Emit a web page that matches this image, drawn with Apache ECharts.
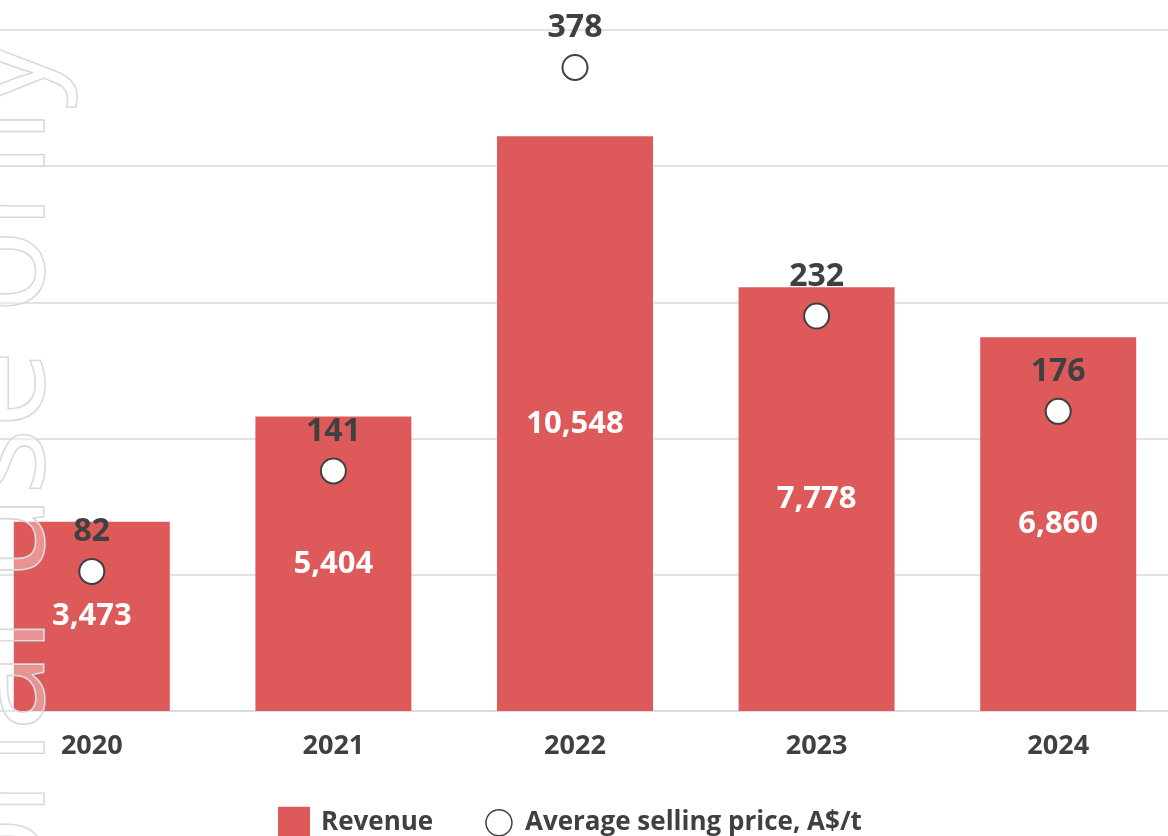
<!DOCTYPE html>
<html>
<head>
<meta charset="utf-8">
<script src="https://cdn.jsdelivr.net/npm/echarts@6/dist/echarts.min.js"></script>
<style>
html,body{margin:0;padding:0;background:#fff;width:1168px;height:836px;overflow:hidden;}
#chart{width:1208px;height:836px;margin-left:-29px;}
</style>
</head>
<body>
<div id="chart"></div>
<script>
const years = ['2020', '2021', '2022', '2023', '2024'];
const revenue = [3473, 5404, 10548, 7778, 6860];
const avgPrice = [82, 141, 378, 232, 176];
const seriesNames = ['Revenue', 'Average selling price, A$/t'];
const watermarkText = 'For personal use only';

const FONT = '"Open Sans", "Liberation Sans", sans-serif';
const DARK = '#404040';
const RED = '#DE5A5A';
const OFF = 29; // canvas is shifted left by this many px

const chart = echarts.init(document.getElementById('chart'), null, {renderer: 'canvas'});
chart.setOption({
  animation: false,
  backgroundColor: '#fff',
  textStyle: {fontFamily: FONT},
  grid: {left: 0, right: 0, top: 30, bottom: 125, containLabel: false},
  legend: {
    left: 273 + OFF, top: 801,
    itemWidth: 32, itemHeight: 32, itemGap: 48,
    textStyle: {fontFamily: FONT, fontWeight: 'bold', fontSize: 26, color: DARK, padding: [0, 0, 0, 6]},
    data: [
      {name: seriesNames[0], icon: 'rect'},
      {name: seriesNames[1], icon: 'path://M0,0M32,32M30,16A13,13,0,1,1,4,16A13,13,0,1,1,30,16Z',
       itemStyle: {color: '#fff', borderColor: DARK, borderWidth: 1.5}}
    ]
  },
  xAxis: {
    type: 'category',
    data: years,
    axisTick: {show: false},
    axisLine: {show: true, lineStyle: {color: '#dcdcdc', width: 2}},
    axisLabel: {fontFamily: FONT, fontWeight: 'bold', fontSize: 27, color: DARK, margin: 22}
  },
  yAxis: [
    {type: 'value', min: 0, max: 12500, interval: 2500, show: true,
     axisLabel: {show: false}, axisLine: {show: false}, axisTick: {show: false},
     splitLine: {show: true, lineStyle: {color: '#e2e2e2', width: 2}}},
    {type: 'value', min: 0, max: 400, interval: 80, show: false, splitLine: {show: false}}
  ],
  series: [
    {
      name: seriesNames[0], type: 'bar', data: revenue, barWidth: 156, yAxisIndex: 0,
      itemStyle: {color: RED},
      label: {show: true, position: 'inside', fontFamily: FONT, fontWeight: 'bold', fontSize: 31, color: '#fff',
        formatter: p => p.value.toLocaleString('en-US')}
    },
    {
      name: seriesNames[1], type: 'scatter', data: avgPrice, yAxisIndex: 1, symbol: 'circle', symbolSize: 25,
      itemStyle: {color: '#fff', borderColor: DARK, borderWidth: 2, opacity: 1},
      label: {show: true, position: 'top', distance: 10, fontFamily: FONT, fontWeight: 'bold', fontSize: 32, color: DARK},
      z: 5
    }
  ],
  graphic: [{
    type: 'text', x: 4 + OFF, y: 38, rotation: Math.PI / 2, z: 100, silent: true,
    style: {
      text: watermarkText, font: '400 140px "Open Sans"',
      fill: 'rgba(255,255,255,0.35)', stroke: '#d2d2d2', lineWidth: 1.6,
      textAlign: 'right', textVerticalAlign: 'middle'
    }
  }]
});
</script>
</body>
</html>
